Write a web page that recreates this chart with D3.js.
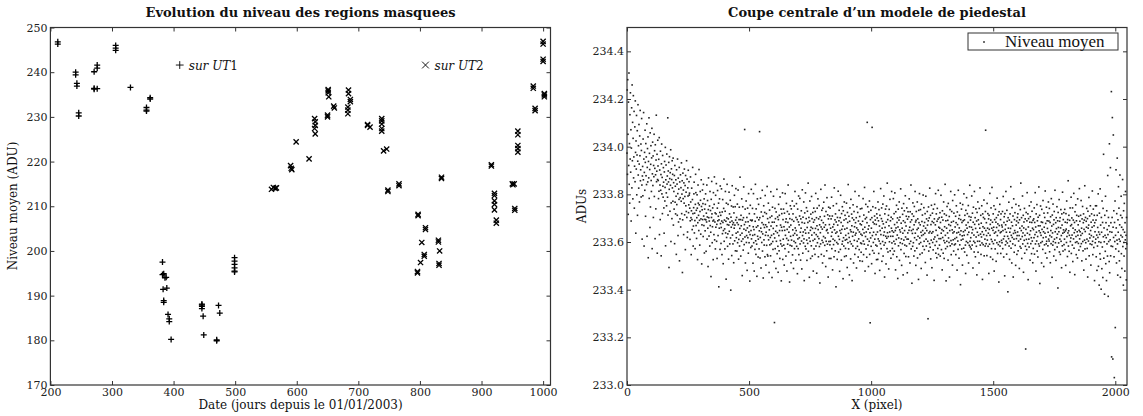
<!DOCTYPE html>
<meta charset="utf-8">
<style>

body {
  margin: 0;
  background: #fff;
}

svg text {
  font-family: "DejaVu Serif", serif;
  fill: #111;
}

.title {
  font-size: 13px;
  font-weight: bold;
  text-anchor: middle;
}

.tick text {
  font-size: 11px;
  fill: #222;
}

.tick line,
.frame {
  stroke: #333;
}

.label {
  font-size: 12px;
  text-anchor: middle;
}

.note {
  font-size: 12px;
}

.legend text {
  font: 17px "Liberation Serif", serif;
}

</style>
<svg width="1143" height="416"></svg>
<script src="https://d3js.org/d3.v7.min.js"></script>
<script>

// left panel: mean level of the masked regions, days since 01/01/2003
var ut1Days = [212, 212, 241, 241, 243, 243, 246, 246,
  271, 271, 271, 276, 276, 276, 306, 306, 306, 330, 356, 356, 356, 362, 362,
  382, 382, 384, 388, 386, 383, 389, 384, 384, 391, 393, 393, 396,
  446, 446, 446, 446, 448, 449, 473, 475, 470, 470,
  499, 499, 499, 499, 499, 499];
var ut1Levels = [246.8, 246.3, 240.0, 239.4, 237.5, 236.9, 230.9, 230.2,
  240.1, 236.4, 236.2, 240.9, 241.6, 236.3, 246.0, 245.4, 244.9, 236.6, 232.1, 231.5, 231.3, 234.0, 234.3,
  197.5, 194.7, 194.9, 194.1, 194.0, 191.4, 191.7, 188.9, 188.5, 185.8, 184.8, 184.2, 180.2,
  188.1, 187.6, 187.1, 187.9, 185.4, 181.2, 187.8, 186.1, 180.1, 179.9,
  198.5, 197.7, 197.0, 196.2, 195.5, 195.3];

var ut2Days = [559, 562, 565, 567, 590, 591, 592, 599, 620,
  629, 630, 630, 629, 630, 651, 651, 652, 651, 650, 650, 660, 661,
  684, 684, 687, 687, 683, 683, 683, 715, 715, 719,
  738, 738, 738, 738, 738, 741, 746, 748, 748, 766, 766,
  797, 797, 809, 809, 803, 807, 807, 801, 796, 796,
  830, 830, 832, 831, 831, 835, 835,
  916, 916, 921, 921, 921, 921, 921, 924, 924, 950, 953, 951, 954, 954,
  959, 959, 959, 959, 959, 984, 984, 987, 987,
  1000, 1000, 1000, 1000, 1002, 1002, 1002];
var ut2Levels = [213.8, 214.2, 214.0, 214.1, 219.1, 218.5, 218.2, 224.4, 220.6,
  229.6, 228.9, 228.1, 227.4, 226.2, 236.1, 235.4, 234.5, 235.8, 230.0, 230.4, 232.4, 232.0,
  236.0, 235.2, 233.9, 233.4, 232.2, 231.5, 230.7, 228.3, 228.1, 227.7,
  229.6, 229.1, 228.4, 227.4, 226.8, 222.4, 222.8, 213.6, 213.3, 215.0, 214.6,
  207.9, 208.2, 205.2, 204.8, 201.9, 199.2, 198.8, 197.4, 195.1, 195.4,
  202.4, 202.0, 200.0, 196.8, 197.2, 216.5, 216.2,
  219.3, 219.0, 212.9, 212.4, 211.2, 210.4, 209.2, 206.9, 206.2, 215.0, 215.0, 214.8, 209.1, 209.5,
  226.8, 226.0, 223.6, 222.9, 222.1, 236.9, 236.4, 231.9, 231.4,
  246.9, 246.3, 242.9, 242.4, 235.2, 234.5, 234.9];

var dayTicks = [200, 300, 400, 500, 600, 700, 800, 900, 1000];
var levelTicks = [170, 180, 190, 200, 210, 220, 230, 240, 250];

// right panel: central cut of the pedestal model, one value per pixel column,
// in thousandths of ADU above 233
var cutA = [
  973,1238,884,1281,1052,716,1187,921,1309,842,1013,763,1134,948,1226,893,1071,688,994,1163,827,1259,941,1102,781,1035,1214,869,957,1148,742,918,1083,853,1192,976,637,1024,906,1131,798,965,1067,712,939,1176,881,1004,826,1093,927,768,1045,962,1152,857,903,1011,789,984,1118,839,612,877,
  917,794,1032,861,1143,948,583,892,976,817,1069,934,708,1013,878,957,841,1096,624,913,992,852,1041,534,938,869,1121,783,972,904,661,1058,747,926,1004,858,812,953,1077,572,886,1019,837,961,703,921,874,1052,791,983,909,614,1008,882,739,944,1132,853,897,968,553,862,1027,919,
  858,782,947,813,1038,631,902,839,694,981,817,883,542,928,1011,802,871,719,963,834,788,912,851,743,637,894,938,772,829,997,584,861,923,806,752,969,843,877,788,1121,713,898,852,934,493,821,958,866,729,891,838,987,602,764,907,862,698,941,827,884,771,952,671,849,
  812,738,879,593,921,767,834,718,861,792,548,903,757,843,712,948,803,627,868,684,822,779,913,521,852,697,786,882,663,828,771,932,719,801,857,472,693,889,782,818,631,848,763,906,714,791,837,568,879,752,809,728,941,703,864,619,642,827,793,901,723,756,853,797,
  805,742,611,689,873,768,702,547,731,826,694,652,778,913,719,583,667,744,802,851,638,721,690,572,758,884,807,669,733,615,702,798,742,526,681,839,763,712,648,904,756,691,587,728,812,775,633,697,861,749,508,672,735,818,694,761,623,842,709,669,781,554,738,695,
  647,758,802,693,561,721,684,839,612,705,774,658,497,736,869,702,625,688,751,583,812,669,732,641,455,779,703,854,718,597,664,743,688,526,807,692,631,758,873,609,684,722,571,796,662,718,845,603,674,531,742,816,689,627,708,763,412,693,658,781,724,569,835,677,
  712,594,661,823,688,547,726,635,778,682,509,648,741,864,603,692,655,571,729,812,638,687,444,763,619,701,842,673,582,634,758,697,528,671,809,645,718,592,683,775,617,398,704,662,751,543,688,836,629,673,592,747,681,513,722,658,796,605,671,748,563,692,824,637,
  618,703,562,681,759,597,642,818,673,528,611,694,746,583,657,872,629,694,541,712,668,603,781,637,459,692,748,613,566,702,831,654,589,673,1072,621,738,512,684,649,772,598,627,703,481,659,742,618,685,553,803,642,597,719,668,436,631,754,692,577,648,821,613,689];
var cutB = [
  583,692,741,628,511,664,803,597,652,478,718,631,569,687,842,605,548,739,662,591,456,703,781,624,668,537,612,758,693,571,647,1063,702,533,619,784,658,491,726,643,598,681,817,562,634,708,449,673,752,609,587,661,724,538,795,628,672,503,641,719,586,664,833,547,
  698,541,627,763,609,682,472,651,734,588,703,619,542,811,667,593,628,709,451,683,746,602,569,657,792,634,518,683,262,617,741,572,698,645,489,726,603,668,821,551,639,705,582,473,694,758,627,563,712,648,531,789,606,671,592,738,437,662,719,583,648,806,527,694,
  612,738,587,664,503,721,649,572,803,628,684,541,697,762,615,478,653,728,591,682,839,607,558,641,717,663,432,698,586,752,624,671,513,739,608,583,694,772,546,651,718,628,489,687,603,751,572,636,812,659,597,524,703,648,761,582,629,694,467,738,613,572,684,793,
  547,672,618,709,783,592,641,524,697,658,731,604,487,682,819,627,553,704,642,596,768,613,438,679,722,651,582,806,637,571,698,744,608,523,661,729,594,682,847,561,638,703,617,452,688,772,603,649,531,717,662,584,791,629,698,541,657,724,606,478,683,742,571,639,
  693,612,548,728,657,804,583,631,702,469,668,742,597,623,781,652,538,697,614,753,581,672,428,706,639,592,821,663,548,691,733,607,654,512,742,598,681,623,767,541,662,708,586,839,617,672,497,728,603,648,563,786,652,591,714,638,453,697,746,602,531,673,709,588,
  742,603,658,531,697,624,788,572,641,709,483,663,612,752,589,674,538,827,651,606,693,563,718,637,412,684,761,598,642,527,703,671,592,813,624,558,689,733,611,477,648,702,569,796,637,682,524,719,653,591,748,603,667,446,731,618,583,692,768,539,654,712,608,573,
  628,697,542,763,611,658,493,724,682,597,841,636,571,708,619,462,687,743,602,651,529,779,643,592,717,668,438,701,624,583,756,641,512,693,728,607,664,548,812,629,681,573,637,702,491,659,748,603,582,724,651,537,688,613,794,568,642,707,521,676,739,596,633,557,
  672,593,741,628,519,687,653,782,604,547,713,638,591,829,662,478,697,623,758,571,642,703,536,681,1102,612,748,587,654,497,726,668,603,772,548,639,261,694,617,733,582,658,509,702,1081,627,564,748,683,598,641,812,553,676,709,612,468,692,743,587,631,674,526,718];
var cutC = [
  583,701,642,527,768,613,689,552,736,604,667,481,712,648,593,824,631,572,698,743,519,658,687,602,759,541,676,628,793,587,642,453,718,661,597,738,624,508,683,751,616,572,847,639,694,558,623,712,487,668,737,601,642,779,563,689,624,532,704,658,812,596,647,573,
  697,624,548,782,641,603,719,562,673,806,592,648,483,727,659,611,754,538,682,629,701,447,663,738,584,617,692,768,523,651,704,597,642,823,568,679,613,502,742,658,593,716,637,462,689,761,608,552,731,648,587,682,794,621,539,667,708,583,743,612,471,696,638,727,
  612,538,706,649,781,593,662,512,727,684,603,839,571,648,693,427,718,636,582,764,653,597,708,541,672,749,618,563,812,637,684,502,691,728,609,574,652,768,533,697,624,658,443,733,681,592,803,617,548,672,736,598,641,489,759,627,686,554,713,648,582,797,631,667,
  744,603,568,682,637,719,514,658,792,612,583,697,648,461,728,671,603,278,689,747,562,638,701,593,826,644,578,712,529,673,608,754,637,492,686,721,598,643,567,738,681,612,439,697,758,621,586,672,803,553,649,718,602,534,687,741,628,573,696,817,548,662,614,702,
  587,658,723,541,682,614,796,637,568,704,652,483,731,619,692,553,647,768,606,531,718,664,597,842,628,572,689,437,712,658,603,749,581,638,691,524,762,617,673,598,707,453,648,736,584,669,812,606,547,683,728,592,651,503,774,638,609,687,562,721,643,588,798,614,
  663,592,708,547,681,752,619,638,482,726,673,604,569,817,641,698,532,659,712,588,631,763,421,694,647,608,738,571,682,626,503,757,612,689,643,574,802,628,693,558,712,649,587,468,733,671,602,786,544,658,719,631,597,682,753,512,641,707,586,664,838,603,579,692,
  618,704,571,662,793,638,587,721,652,491,683,746,603,629,558,812,674,597,702,538,657,739,621,582,688,462,724,641,603,768,557,693,628,674,512,741,603,658,827,587,633,712,548,679,621,752,596,643,443,718,664,589,703,631,776,542,658,697,612,583,728,1069,648,593,
  681,627,543,762,608,658,719,582,637,697,468,712,653,591,804,628,674,537,692,743,611,572,658,829,602,683,527,649,718,593,662,752,478,637,694,608,571,737,642,683,519,702,661,597,784,627,552,676,713,589,648,432,727,669,601,758,583,639,694,552,718,643,607,671];
var cutD = [
  597,663,728,572,648,791,613,537,682,706,624,458,719,653,588,672,812,603,641,549,733,687,596,624,391,702,658,614,767,583,692,527,641,718,603,657,832,574,628,683,512,744,619,668,592,709,453,636,781,612,557,694,648,723,586,639,502,758,671,614,688,548,627,703,
  642,718,563,681,604,752,627,489,693,658,581,736,612,847,574,648,702,531,667,623,793,592,638,712,473,659,684,607,741,553,628,697,582,151,653,724,611,568,689,807,637,594,718,442,663,698,612,579,752,631,683,524,706,647,593,768,618,551,682,729,604,658,513,691,
  573,652,697,618,743,549,682,631,807,592,663,478,718,641,604,757,562,689,623,537,704,668,592,831,647,583,712,426,668,639,751,597,628,684,512,737,653,602,682,569,774,618,643,497,721,662,588,703,637,814,553,678,621,592,746,603,533,689,657,722,584,641,768,612,
  688,604,741,559,627,682,513,706,648,593,782,621,667,452,713,638,587,759,602,674,541,693,728,612,568,817,643,597,681,523,702,656,618,748,579,633,689,407,724,661,596,643,778,558,687,612,702,548,659,736,603,627,492,718,671,584,809,637,562,694,651,723,589,641,
  612,737,568,683,647,502,719,654,598,772,623,681,539,694,638,857,583,647,712,561,628,691,473,743,602,668,617,788,552,673,701,629,587,743,518,658,692,613,804,574,639,682,463,727,651,598,756,623,547,689,712,601,643,533,781,628,672,594,708,566,649,824,613,687,
  643,581,712,628,774,593,658,521,697,636,749,602,563,681,718,482,653,692,608,836,571,644,703,597,528,687,662,741,612,573,698,453,729,658,604,671,787,542,633,709,617,592,752,648,503,683,627,718,589,662,814,603,547,692,738,621,577,668,712,438,681,643,597,752,
  612,692,538,752,629,481,712,583,661,619,802,498,642,601,419,721,632,551,823,528,671,598,402,703,641,488,772,579,682,451,741,622,968,532,659,601,381,712,628,561,792,509,681,618,438,731,592,652,541,879,631,372,703,602,668,518,1012,471,643,609,912,542,681,583,
  1231,118,641,703,1122,581,109,662,1049,619,731,538,31,682,602,772,241,628,571,903,659,512,719,608,952,592,461,693,641,832,561,742,612,521,672,881,603,452,712,628,792,551,662,489,702,621,862,581,652,419,731,598,541,762,641,478,681,609,812,572,628,441,703,592];

var pixelTicks = [0, 500, 1000, 1500, 2000];
var aduTicks = [233.0, 233.2, 233.4, 233.6, 233.8, 234.0, 234.2, 234.4];

var svg = d3.select("svg");

var plotTop = 27.5, plotBottom = 385;

var xDay = d3.scaleLinear().domain([200, 1012]).range([50.4, 550.5]),
    yLevel = d3.scaleLinear().domain([170, 250]).range([plotBottom, plotTop]);

var xPix = d3.scaleLinear().domain([0, 2048]).range([627, 1127]),
    yAdu = d3.scaleLinear().domain([233, 234.5]).range([plotBottom, plotTop]);

function frame(x, y, xTicks, yTicks, yFormat) {
  var r = x.range(), g = svg.append("g");
  g.append("g")
      .attr("transform", "translate(0," + plotBottom + ")")
      .call(d3.axisBottom(x).tickValues(xTicks).tickSize(-4).tickPadding(3).tickFormat(d3.format("d")));
  g.append("g")
      .attr("transform", "translate(0," + plotTop + ")")
      .call(d3.axisTop(x).tickValues(xTicks).tickSize(-4).tickFormat(""));
  g.append("g")
      .attr("transform", "translate(" + r[0] + ",0)")
      .call(d3.axisLeft(y).tickValues(yTicks).tickSize(-4).tickPadding(3).tickFormat(yFormat));
  g.append("g")
      .attr("transform", "translate(" + r[1] + ",0)")
      .call(d3.axisRight(y).tickValues(yTicks).tickSize(-4).tickFormat(""));
  g.selectAll(".domain").remove();
  g.append("rect")
      .attr("class", "frame")
      .attr("x", r[0])
      .attr("y", plotTop)
      .attr("width", r[1] - r[0])
      .attr("height", plotBottom - plotTop)
      .attr("fill", "none")
      .attr("stroke-width", 1.2);
  return g;
}

var plus = "M-3,0H3M0,-3V3",
    cross = "M-2.6,-2.6L2.6,2.6M-2.6,2.6L2.6,-2.6";

// left panel
frame(xDay, yLevel, dayTicks, levelTicks, d3.format("d"));

function markers(days, levels, shape) {
  svg.append("g").selectAll("path")
    .data(days)
    .enter().append("path")
      .attr("d", shape)
      .attr("transform", function(d, i) { return "translate(" + xDay(d) + "," + yLevel(levels[i]) + ")"; })
      .attr("fill", "none")
      .attr("stroke", "#000")
      .attr("stroke-width", 1.3);
}

markers(ut1Days, ut1Levels, plus);
markers(ut2Days, ut2Levels, cross);

function note(shape, day, level, n) {
  var x = xDay(day), y = yLevel(level);
  svg.append("path")
      .attr("d", shape)
      .attr("transform", "translate(" + x + "," + y + ") scale(1.3)")
      .attr("fill", "none")
      .attr("stroke", "#000")
      .attr("stroke-width", 0.7);
  var t = svg.append("text").attr("class", "note").attr("x", x + 9).attr("y", y + 4.5);
  t.append("tspan").attr("font-style", "italic").text("sur UT");
  t.append("tspan").text(n);
}

note(plus, 410, 241.6, "1");
note(cross, 809, 241.6, "2");

svg.append("text").attr("class", "title")
    .attr("x", 300.5).attr("y", 17)
    .text("Evolution du niveau des regions masquees");
svg.append("text").attr("class", "label")
    .attr("x", 300.5).attr("y", 409)
    .text("Date (jours depuis le 01/01/2003)");
svg.append("text").attr("class", "label")
    .attr("transform", "translate(17,206) rotate(-90)")
    .text("Niveau moyen (ADU)");

// right panel
frame(xPix, yAdu, pixelTicks, aduTicks, d3.format(".1f"));

var cut = cutA.concat(cutB, cutC, cutD);

svg.append("g").selectAll("rect")
  .data(cut)
  .enter().append("rect")
    .attr("x", function(d, i) { return xPix(i) - 0.8; })
    .attr("y", function(d) { return yAdu(233 + d / 1000) - 0.8; })
    .attr("width", 1.6)
    .attr("height", 1.6)
    .attr("fill", "#222");

var legend = svg.append("g").attr("class", "legend");
legend.append("rect")
    .attr("x", 968).attr("y", 33)
    .attr("width", 150).attr("height", 17)
    .attr("fill", "#fff")
    .attr("stroke", "#333");
legend.append("rect")
    .attr("x", 983.2).attr("y", 41.2)
    .attr("width", 1.6).attr("height", 1.6)
    .attr("fill", "#222");
legend.append("text")
    .attr("x", 1005).attr("y", 46.5)
    .text("Niveau moyen");

svg.append("text").attr("class", "title")
    .attr("x", 877).attr("y", 17)
    .text("Coupe centrale d\u2019un modele de piedestal");
svg.append("text").attr("class", "label")
    .attr("x", 877).attr("y", 409)
    .text("X (pixel)");
svg.append("text").attr("class", "label")
    .attr("transform", "translate(586,206) rotate(-90)")
    .text("ADUs");

</script>
